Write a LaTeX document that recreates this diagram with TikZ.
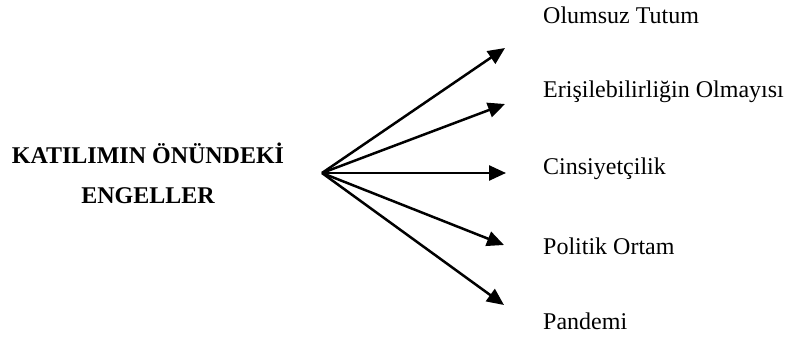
\documentclass[tikz,border=0pt]{standalone}
\usepackage{fontspec}
\setmainfont{Liberation Serif}
\usetikzlibrary{arrows.meta}
\begin{document}
\begin{tikzpicture}[x=1pt,y=-1pt,
  lbl/.style={anchor=west,inner sep=0pt,font=\fontsize{24}{28}\selectfont},
  ttl/.style={align=center,inner sep=0pt,font=\fontsize{24}{40}\selectfont\bfseries},
  arr/.style={line width=2.5pt,-{Triangle[length=17pt,width=15pt]}}]
\useasboundingbox (0,0) rectangle (787,337);
\node[ttl] (title) at (148,173) {KATILIMIN ÖNÜNDEKİ\\ENGELLER};
\coordinate (o) at (322,173);
\coordinate (t1) at (505,48);
\coordinate (t2) at (505,104);
\coordinate (t3) at (506,173);
\coordinate (t4) at (504,245);
\coordinate (t5) at (504,305);
\node[lbl] (l1) at (543,15) {Olumsuz Tutum};
\node[lbl] (l2) at (543,92) {Erişilebilirliğin Olmayısı};
\node[lbl] (l3) at (543,169) {Cinsiyetçilik};
\node[lbl] (l4) at (543,246) {Politik Ortam};
\node[lbl] (l5) at (543,321) {Pandemi};
\foreach \t in {t1,t2,t3,t4,t5} \draw[arr] (o) -- (\t);
\end{tikzpicture}
\end{document}
